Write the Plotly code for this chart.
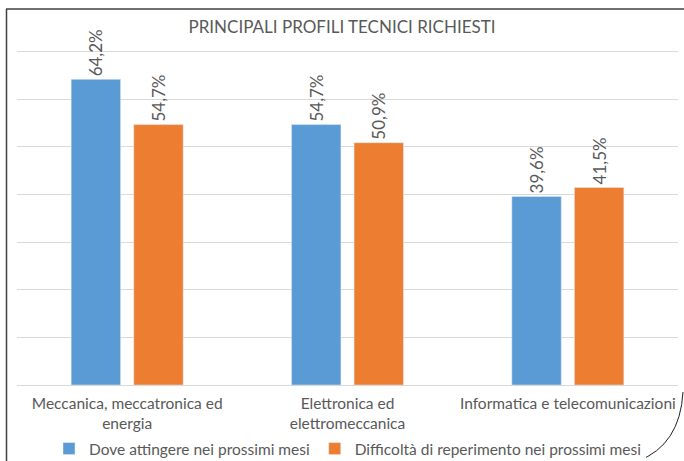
import plotly.graph_objects as go

categories = ["Meccanica, meccatronica ed<br>energia", "Elettronica ed<br>elettromeccanica", "Informatica e telecomunicazioni"]
series_names = ["Dove attingere nei prossimi mesi", "Difficoltà di reperimento nei prossimi mesi"]
dove_values = [64.2, 54.7, 39.6]
difficolta_values = [54.7, 50.9, 41.5]
colors = ["#5B9BD5", "#ED7D31"]
title = "PRINCIPALI PROFILI TECNICI RICHIESTI"
y_max = 70

FONT = "Lato"
GRAY = "#595959"

W, H = 684, 461
L, R, T, B = 17, 6, 47, 76
pw, ph = W - L - R, H - T - B

def px(x):
    return (x - L) / pw

def py(y):
    return (H - B - y) / ph

def fmt(v):
    return f"{v:.1f}".replace(".", ",") + "%"

fig = go.Figure()
for name, vals, col in zip(series_names, [dove_values, difficolta_values], colors):
    fig.add_trace(go.Bar(
        x=categories, y=vals, name=name, marker_color=col,
        text=[fmt(v) for v in vals], textposition="outside", textangle=-90,
        textfont=dict(family=FONT, size=17, color=GRAY),
        cliponaxis=False,
    ))

shapes = [
    dict(type="line", xref="paper", yref="paper", x0=px(6), x1=px(684), y0=py(9), y1=py(9),
         line=dict(color="#404040", width=1.5), layer="above"),
    dict(type="line", xref="paper", yref="paper", x0=px(6.5), x1=px(6.5), y0=py(9), y1=py(461),
         line=dict(color="#404040", width=1.5), layer="above"),
    dict(type="path", xref="paper", yref="paper",
         path=f"M {px(683)},{py(392)} Q {px(680)},{py(445)} {px(638)},{py(461)}",
         line=dict(color="#202020", width=1), layer="above"),
]

fig.update_layout(
    width=W, height=H,
    margin=dict(l=L, r=R, t=T, b=B, autoexpand=False),
    paper_bgcolor="white", plot_bgcolor="white",
    barmode="group", bargap=0.432, bargroupgap=0.21,
    title=dict(text=title, x=0.5, xanchor="center", y=1 - 27 / H, yanchor="middle",
               font=dict(family=FONT, size=17, color=GRAY)),
    font=dict(family=FONT, color=GRAY),
    xaxis=dict(showline=True, linecolor="#D9D9D9", ticks="", ticklabelstandoff=4,
               tickfont=dict(family=FONT, size=15.5, color=GRAY)),
    yaxis=dict(range=[0, y_max + 1], tick0=0, dtick=10, showticklabels=False, gridcolor="#D9D9D9",
               zeroline=False),
    legend=dict(orientation="h", x=0.5, xanchor="center", y=py(449), yanchor="middle",
                itemwidth=30, font=dict(family=FONT, size=15.5, color=GRAY)),
    shapes=shapes,
    showlegend=True,
)

fig.write_html("out.html", config={"displayModeBar": False},
               post_script="document.body.style.margin='0';document.body.style.overflow='hidden';")
